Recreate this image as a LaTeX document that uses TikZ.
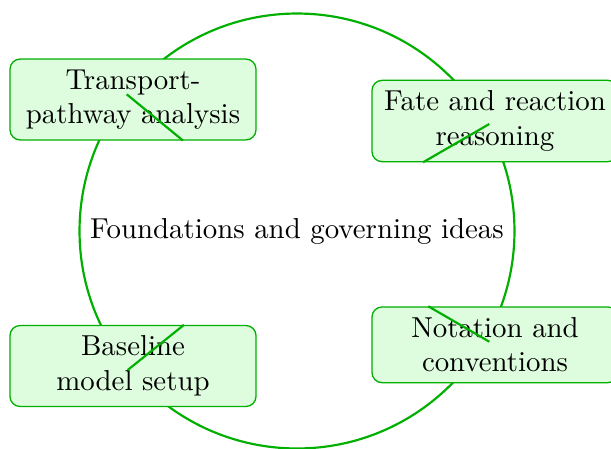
\documentclass[tikz,border=0pt]{standalone}
\definecolor{mygreen}{RGB}{0,175,0}
\definecolor{boxfill}{RGB}{222,252,222}
\tikzset{
  hub/.style={circle, draw=mygreen, line width=0.75pt, minimum size=150.8pt, inner sep=0pt},
  topic/.style={draw=mygreen, line width=0.45pt, fill=boxfill, rounded corners=3.5pt,
    align=center, minimum width=85.3pt, inner xsep=3.5pt, inner ysep=3.6pt},
  spoke/.style={draw=mygreen, line width=0.75pt}
}
\begin{document}
\begin{tikzpicture}[x=0.3467pt, y=-0.3467pt]
\useasboundingbox (0,0) rectangle (611,448);
\node[hub] (c) at (297,231) {Foundations and governing ideas};
\node[topic] (b1) at (133,99.5) {Transport-\\pathway analysis};
\node[topic] (b2) at (495,121) {Fate and reaction\\reasoning};
\node[topic] (b3) at (133,366) {Baseline\\model setup};
\node[topic] (b4) at (495,344.8) {Notation and\\conventions};
\coordinate (s1) at (126.7,94.3);
\coordinate (s2) at (489.3,124);
\coordinate (s3) at (127.7,370);
\coordinate (s4) at (489.3,341.7);
\draw[spoke] (s1) -- (b1.south -| 183,0);
\draw[spoke] (s2) -- (b2.south -| 423,0);
\draw[spoke] (s3) -- (b3.north -| 184,0);
\draw[spoke] (s4) -- (b4.north -| 428.3,0);
\end{tikzpicture}
\end{document}
